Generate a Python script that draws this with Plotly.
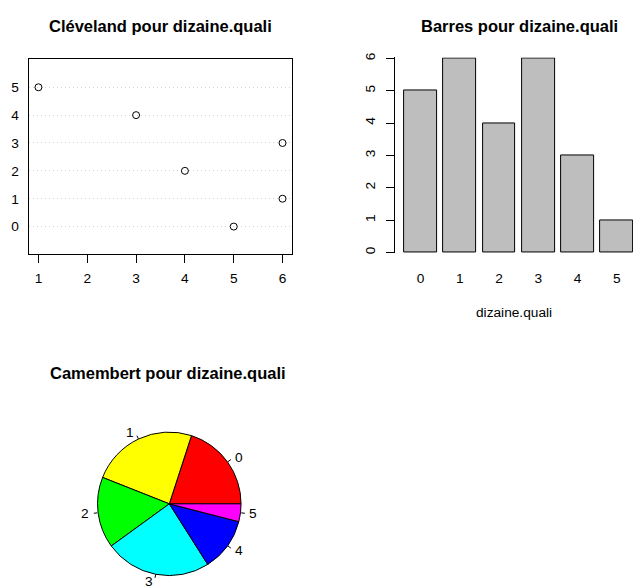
import numpy as np
import plotly.graph_objects as go

W, H = 633, 586
FONT = "Liberation Sans, Arial, Helvetica, sans-serif"

# Frequency table of dizaine.quali
categories = ["0", "1", "2", "3", "4", "5"]
counts = [5, 6, 4, 6, 3, 1]
slice_colors = ["#FF0000", "#FFFF00", "#00FF00", "#00FFFF", "#0000FF", "#FF00FF"]
dot_x_ticks = [1, 2, 3, 4, 5, 6]
bar_y_ticks = [0, 1, 2, 3, 4, 5, 6]


def dom_x(left, right):
    return [left / W, right / W]


def dom_y(top, bottom):
    return [1 - bottom / H, 1 - top / H]


fig = go.Figure()

# --- Cleveland dot chart -------------------------------------------------
cat_pos = list(range(len(categories)))
fig.add_trace(go.Scatter(
    x=counts, y=cat_pos, mode="markers",
    marker=dict(symbol="circle-open", size=7, color="black", line=dict(width=1)),
    xaxis="x", yaxis="y", showlegend=False, hoverinfo="x+y",
))

# --- Bar chart (bar width 1, spacing 0.2) ----------------------------------
bar_centers = [0.7 + 1.2 * i for i in range(len(counts))]
fig.add_trace(go.Bar(
    x=bar_centers, y=counts, width=1.0,
    marker=dict(color="#BEBEBE", line=dict(color="black", width=1)),
    xaxis="x2", yaxis="y2", showlegend=False,
))

# --- Pie chart ------------------------------------------------------------
vals = np.array(counts, dtype=float)
frac = vals / vals.sum()
cx, cy, r = 169.3, 504.0, 72.5
pie_dx = dom_x(cx - r, cx + r)
pie_dy = dom_y(cy - r, cy + r)
fig.add_trace(go.Pie(
    values=counts, labels=categories, sort=False,
    direction="counterclockwise", rotation=90 - 360 * frac[0],
    marker=dict(colors=slice_colors, line=dict(color="black", width=1)),
    textinfo="none", domain=dict(x=pie_dx, y=pie_dy),
    showlegend=False, hoverinfo="label+value",
))

# label ticks around the pie, at each slice's mid-angle
mid = 2 * np.pi * (np.cumsum(frac) - frac / 2)
tx, ty = [], []
for a in mid:
    tx += [np.cos(a), 1.05 * np.cos(a), None]
    ty += [np.sin(a), 1.05 * np.sin(a), None]
fig.add_trace(go.Scatter(
    x=tx, y=ty, mode="lines", line=dict(color="black", width=1),
    xaxis="x3", yaxis="y3", showlegend=False, hoverinfo="skip",
))

annotations = []
for lab, a in zip(categories, mid):
    x, y = 1.1 * np.cos(a), 1.1 * np.sin(a)
    annotations.append(dict(
        x=x, y=y, xref="x3", yref="y3", text=lab, showarrow=False,
        xanchor="left" if x >= 0 else "right", yanchor="middle",
        font=dict(size=13.7, color="black", family=FONT), borderpad=0,
    ))

titles = [
    ("Cléveland pour dizaine.quali", 160.5, 21),
    ("Barres pour dizaine.quali", 519, 21),
    ("Camembert pour dizaine.quali", 168, 372),
]
for txt, x, y in titles:
    annotations.append(dict(
        x=x / W, y=1 - y / H, xref="paper", yref="paper", text="<b>%s</b>" % txt,
        showarrow=False, xanchor="center", yanchor="middle",
        font=dict(size=16.5, color="black", family=FONT),
    ))

tick_font = dict(size=13.7, color="black", family=FONT)

# overlay axes for the pie labels: 1 unit = pie radius
ov_x = [-1.4, 1.4]
ov_y = [-1.1, 1.4]

fig.update_layout(
    width=W, height=H,
    margin=dict(l=0, r=0, t=0, b=0),
    paper_bgcolor="white", plot_bgcolor="white",
    font=dict(family=FONT, color="black"),
    annotations=annotations,
    bargap=0,
    xaxis=dict(
        domain=dom_x(28.7, 292.3), range=[0.8, 6.2], anchor="y",
        tickvals=dot_x_ticks, ticks="outside", ticklen=8, tickcolor="black",
        showline=True, mirror=True, linecolor="black", linewidth=1,
        showgrid=False, zeroline=False, tickfont=tick_font, ticklabelstandoff=3,
    ),
    yaxis=dict(
        domain=dom_y(55, 252), range=[-1, 6], anchor="x",
        tickvals=cat_pos, ticktext=categories, ticks="",
        showline=True, mirror=True, linecolor="black", linewidth=1,
        showgrid=True, gridcolor="#D3D3D3", griddash="1px,3px", gridwidth=1,
        zeroline=False, tickfont=tick_font, ticklabelstandoff=6,
    ),
    xaxis2=dict(
        domain=[395.1 / W, 1.0], range=[-0.08, 7.195], anchor="y2",
        tickvals=bar_centers, ticktext=categories, ticks="",
        showline=False, showgrid=False, zeroline=False, tickfont=tick_font,
        ticklabelstandoff=15,
        title=dict(text="dizaine.quali", font=tick_font, standoff=22),
    ),
    yaxis2=dict(
        domain=dom_y(53.0, 251.0), range=[-0.03, 6.03], anchor="x2",
        tickvals=bar_y_ticks, ticks="outside", ticklen=8, tickcolor="black",
        showline=True, linecolor="black", linewidth=1, tickangle=-90,
        showgrid=False, zeroline=False, tickfont=tick_font, ticklabelstandoff=6,
    ),
    xaxis3=dict(domain=dom_x(cx + ov_x[0] * r, cx + ov_x[1] * r), range=ov_x,
                visible=False, anchor="y3"),
    yaxis3=dict(domain=dom_y(cy - ov_y[1] * r, cy - ov_y[0] * r), range=ov_y,
                visible=False, anchor="x3"),
)

fig.write_html("out.html")
